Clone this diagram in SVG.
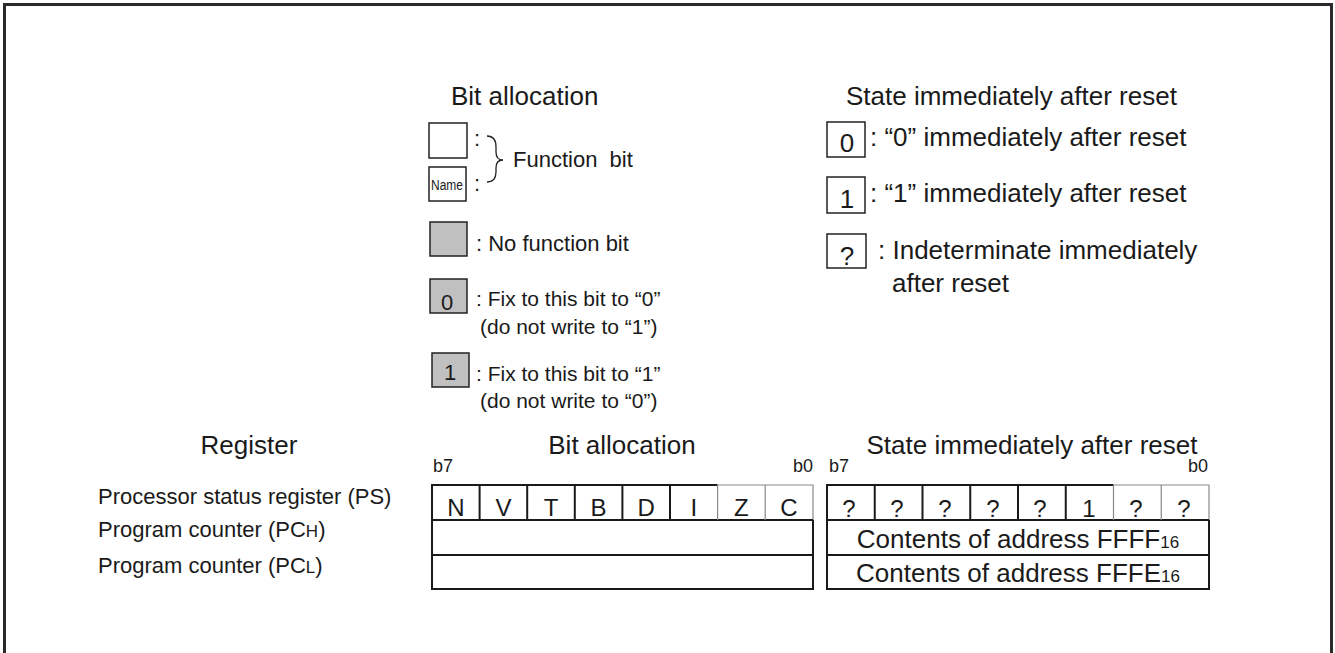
<svg xmlns="http://www.w3.org/2000/svg" width="1335" height="653" viewBox="0 0 1335 653">
<style>
text{font-family:"Liberation Sans",Arial,sans-serif;fill:#1a1a1a}
.h{font-size:26px}
.b{font-size:22px}
.f{font-size:21px}
.r{font-size:26px}
.g{font-size:22px}
.c{font-size:24px;text-anchor:middle}
.s{font-size:18px}
.bx{fill:#fff;stroke:#222;stroke-width:1.5}
.gy{fill:#c0c0c0;stroke:#222;stroke-width:1.5}
.ln{stroke:#1a1a1a;stroke-width:2;fill:none}
.lt{stroke:#888;stroke-width:1.2;fill:none}
</style>
<rect x="0" y="0" width="1335" height="653" fill="#fff"/>
<rect id="frame" x="4.5" y="4.5" width="1327" height="700" fill="none" stroke="#2a2a2a" stroke-width="3"/>

<g id="legend-bit-allocation">
<text class="h" x="451" y="105">Bit allocation</text>
<rect class="bx" x="429" y="123" width="38" height="35"/>
<text class="b" x="474" y="146">:</text>
<rect class="bx" x="429" y="167" width="37" height="34"/>
<text x="431" y="190" font-size="14" textLength="32" lengthAdjust="spacingAndGlyphs">Name</text>
<text class="b" x="474" y="191">:</text>
<path d="M487,136 Q496,136 496,147 L496,152 Q496,160 503,160 Q496,160 496,168 L496,172 Q496,182 487,182" fill="none" stroke="#222" stroke-width="1.3"/>
<text class="b" x="513" y="167" style="white-space:pre">Function  bit</text>
<rect class="gy" x="430" y="222" width="37" height="34"/>
<text class="b" x="476" y="251">: No function bit</text>
<rect class="gy" x="430" y="279" width="37" height="34"/>
<text class="b" x="447" y="310" text-anchor="middle">0</text>
<text class="f" x="476" y="306">: Fix to this bit to “0”</text>
<text class="f" x="480" y="334">(do not write to “1”)</text>
<rect class="gy" x="432" y="353" width="37" height="34"/>
<text class="b" x="450" y="380" text-anchor="middle">1</text>
<text class="f" x="476" y="381">: Fix to this bit to “1”</text>
<text class="f" x="480" y="408">(do not write to “0”)</text>
</g>

<g id="legend-reset-state">
<text class="h" x="846" y="105">State immediately after reset</text>
<rect class="bx" x="827" y="122" width="38" height="35"/>
<text class="r" x="847" y="152" text-anchor="middle">0</text>
<text class="r" x="870" y="146">: “0” immediately after reset</text>
<rect class="bx" x="827" y="177" width="38" height="36"/>
<text class="r" x="847" y="208" text-anchor="middle">1</text>
<text class="r" x="870" y="202">: “1” immediately after reset</text>
<rect class="bx" x="827" y="234" width="39" height="34"/>
<text class="r" x="847" y="265" text-anchor="middle">?</text>
<text class="r" x="878" y="259">: Indeterminate immediately</text>
<text class="r" x="892" y="292">after reset</text>
</g>

<g id="register-names">
<text class="h" x="249" y="454" text-anchor="middle">Register</text>
<text class="g" x="98" y="504">Processor status register (PS)</text>
<text class="g" x="98" y="537">Program counter (PC<tspan font-size="17">H</tspan>)</text>
<text class="g" x="98" y="573">Program counter (PC<tspan font-size="17">L</tspan>)</text>
</g>

<g id="bit-allocation-table">
<text class="h" x="622" y="454" text-anchor="middle">Bit allocation</text>
<text class="s" x="433" y="472">b7</text>
<text class="s" x="813" y="472" text-anchor="end">b0</text>
<path class="ln" d="M717.6,485 L432,485 L432,589 L813,589 L813,520"/>
<path class="lt" d="M717.6,485 L813,485 L813,520"/>
<line class="ln" x1="432" y1="520" x2="813" y2="520"/>
<line class="ln" x1="432" y1="555" x2="813" y2="555"/>
<line class="ln" x1="479.6" y1="485" x2="479.6" y2="520"/>
<line class="ln" x1="527.2" y1="485" x2="527.2" y2="520"/>
<line class="ln" x1="574.8" y1="485" x2="574.8" y2="520"/>
<line class="ln" x1="622.4" y1="485" x2="622.4" y2="520"/>
<line class="ln" x1="670" y1="485" x2="670" y2="520"/>
<line class="lt" x1="717.6" y1="485" x2="717.6" y2="520"/>
<line class="lt" x1="765.2" y1="485" x2="765.2" y2="520"/>
<text class="c" x="455.8" y="516">N</text>
<text class="c" x="503.4" y="516">V</text>
<text class="c" x="551" y="516">T</text>
<text class="c" x="598.6" y="516">B</text>
<text class="c" x="646.2" y="516">D</text>
<text class="c" x="693.8" y="516">I</text>
<text class="c" x="741.4" y="516">Z</text>
<text class="c" x="789" y="516">C</text>
</g>

<g id="reset-state-table">
<text class="h" x="1032" y="454" text-anchor="middle">State immediately after reset</text>
<text class="s" x="829" y="472">b7</text>
<text class="s" x="1208" y="472" text-anchor="end">b0</text>
<path class="ln" d="M1113.5,485 L827,485 L827,589 L1209,589 L1209,520"/>
<path class="lt" d="M1113.5,485 L1209,485 L1209,520"/>
<line class="ln" x1="827" y1="520" x2="1209" y2="520"/>
<line class="ln" x1="827" y1="555" x2="1209" y2="555"/>
<line class="ln" x1="874.75" y1="485" x2="874.75" y2="520"/>
<line class="ln" x1="922.5" y1="485" x2="922.5" y2="520"/>
<line class="ln" x1="970.25" y1="485" x2="970.25" y2="520"/>
<line class="ln" x1="1018" y1="485" x2="1018" y2="520"/>
<line class="ln" x1="1065.75" y1="485" x2="1065.75" y2="520"/>
<line class="lt" x1="1113.5" y1="485" x2="1113.5" y2="520"/>
<line class="lt" x1="1161.25" y1="485" x2="1161.25" y2="520"/>
<text class="c" x="849" y="517">?</text>
<text class="c" x="897" y="517">?</text>
<text class="c" x="945" y="517">?</text>
<text class="c" x="993" y="517">?</text>
<text class="c" x="1040" y="517">?</text>
<text class="c" x="1089" y="517">1</text>
<text class="c" x="1136" y="517">?</text>
<text class="c" x="1184" y="517">?</text>
<text class="r" x="1018" y="548" text-anchor="middle">Contents of address FFFF<tspan font-size="17">16</tspan></text>
<text class="r" x="1018" y="582" text-anchor="middle">Contents of address FFFE<tspan font-size="17">16</tspan></text>
</g>
</svg>
